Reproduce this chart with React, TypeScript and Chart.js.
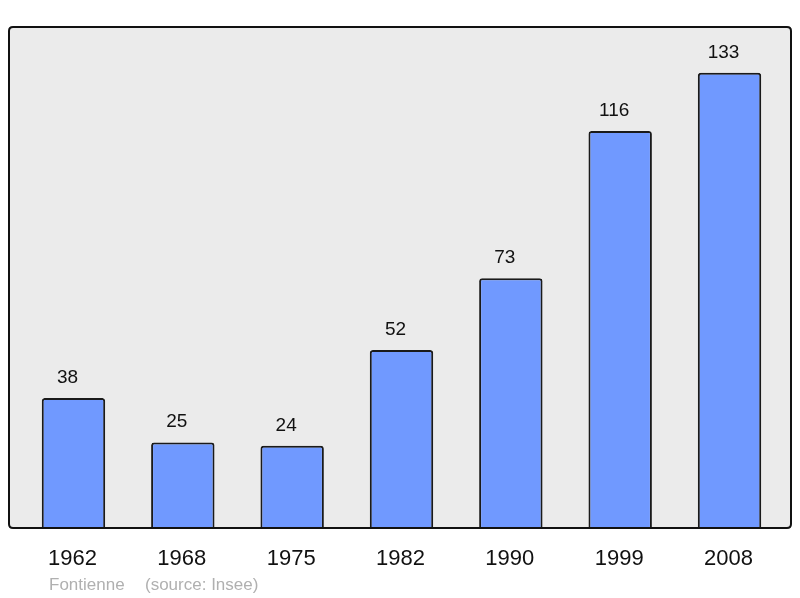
import React, { useEffect, useRef } from "react";
import { Chart, registerables } from "chart.js";

Chart.register(...registerables);

const years = ["1962", "1968", "1975", "1982", "1990", "1999", "2008"];
const population = [38, 25, 24, 52, 73, 116, 133];
const footerName = "Fontienne";
const footerSource = "(source: Insee)";

const FONT = "'Liberation Sans', Arial, sans-serif";

function roundRect(ctx: CanvasRenderingContext2D, x: number, y: number, w: number, h: number, r: number) {
  ctx.beginPath();
  ctx.moveTo(x + r, y);
  ctx.lineTo(x + w - r, y);
  ctx.quadraticCurveTo(x + w, y, x + w, y + r);
  ctx.lineTo(x + w, y + h - r);
  ctx.quadraticCurveTo(x + w, y + h, x + w - r, y + h);
  ctx.lineTo(x + r, y + h);
  ctx.quadraticCurveTo(x, y + h, x, y + h - r);
  ctx.lineTo(x, y + r);
  ctx.quadraticCurveTo(x, y, x + r, y);
  ctx.closePath();
}

const framePlugin = {
  id: "frame",
  beforeDatasetsDraw(chart: any) {
    const { ctx, chartArea } = chart;
    const x = chartArea.left - 9.8;
    const w = chartArea.right + 6.8 - x;
    ctx.save();
    roundRect(ctx, x, chartArea.top, w, chartArea.bottom - chartArea.top, 4);
    ctx.fillStyle = "#ebebeb";
    ctx.fill();
    ctx.restore();
  },
  afterDatasetsDraw(chart: any) {
    const { ctx, chartArea } = chart;
    const x = chartArea.left - 9.8;
    const w = chartArea.right + 6.8 - x;
    ctx.save();
    roundRect(ctx, x, chartArea.top, w, chartArea.bottom - chartArea.top, 4);
    ctx.lineWidth = 2;
    ctx.strokeStyle = "#111111";
    ctx.stroke();

    const xs = chart.scales.x;
    const ys = chart.scales.y;
    ctx.textAlign = "center";
    ctx.textBaseline = "alphabetic";
    ctx.fillStyle = "#111111";
    ctx.font = `19px ${FONT}`;
    population.forEach((v, i) => {
      const px = xs.getPixelForValue(i);
      const py = ys.getPixelForValue(v);
      ctx.fillText(String(v), px - 6, py - 15);
    });
    ctx.font = `22px ${FONT}`;
    years.forEach((y, i) => {
      const px = xs.getPixelForValue(i);
      ctx.fillText(y, px - 1, chartArea.bottom + 37);
    });
    ctx.textAlign = "left";
    ctx.fillStyle = "#b0b0b0";
    ctx.font = `17px ${FONT}`;
    ctx.fillText(footerName, 49, chartArea.bottom + 62);
    ctx.fillText(footerSource, 145, chartArea.bottom + 62);
    ctx.restore();
  },
};

export default function App() {
  const ref = useRef<HTMLCanvasElement>(null);
  useEffect(() => {
    if (!ref.current) return;
    const chart = new Chart(ref.current, {
      type: "bar",
      data: {
        labels: years,
        datasets: [
          {
            data: population,
            backgroundColor: "#7099ff",
            borderColor: "#1a1a1a",
            borderWidth: 2,
            borderRadius: 3,
            borderSkipped: "bottom",
            barPercentage: 0.58,
            categoryPercentage: 1,
          },
        ],
      },
      options: {
        animation: false,
        responsive: false,
        maintainAspectRatio: false,
        layout: { padding: { left: 18.8, right: 15.8, top: 27, bottom: 70 } },
        plugins: { legend: { display: false }, tooltip: { enabled: false }, title: { display: false } },
        scales: {
          x: { display: false, offset: true },
          y: { display: false, min: 0, max: 146.4 },
        },
      },
      plugins: [framePlugin],
    });
    return () => chart.destroy();
  }, []);
  return (
    <div style={{ position: "fixed", left: 0, top: 0, width: 800, height: 598, background: "#ffffff" }}>
      <canvas ref={ref} width={800} height={598} style={{ width: 800, height: 598, display: "block" }} />
    </div>
  );
}
